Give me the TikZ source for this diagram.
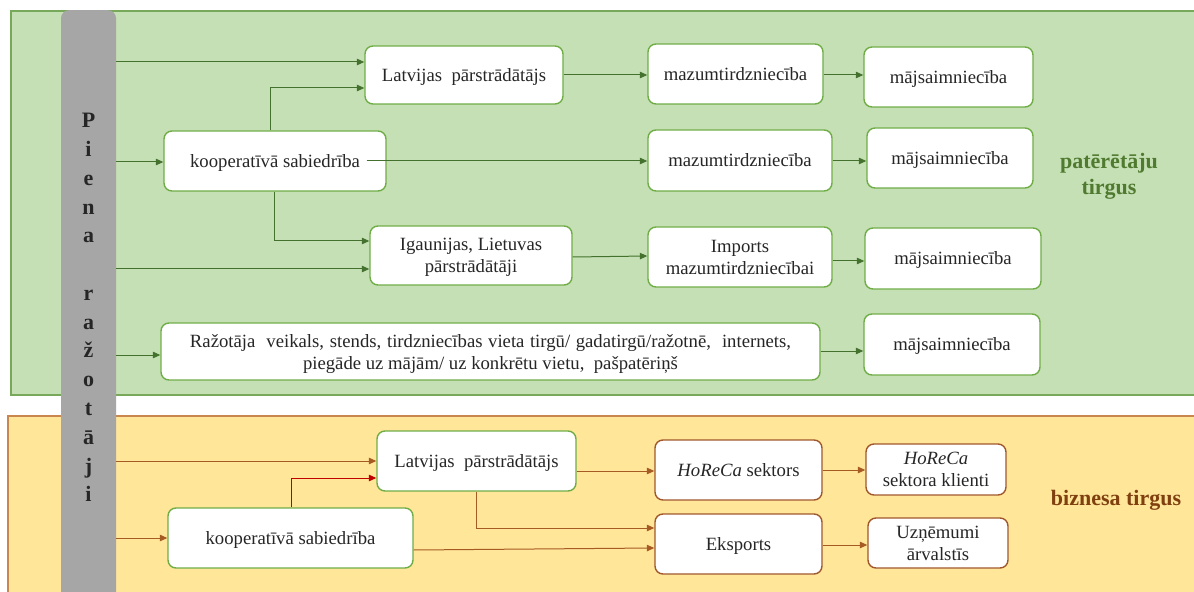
\documentclass[tikz,border=0pt]{standalone}
\usepackage{fontspec}
\setmainfont{Liberation Serif}
\usetikzlibrary{arrows.meta}
\definecolor{pgreen}{HTML}{C5E0B4}
\definecolor{pgreenb}{HTML}{78A85A}
\definecolor{porange}{HTML}{FFE699}
\definecolor{porangeb}{HTML}{C9874F}
\definecolor{barg}{HTML}{A6A6A6}
\definecolor{boxg}{HTML}{70AD47}
\definecolor{boxb}{HTML}{A0582C}
\definecolor{arrg}{HTML}{44722E}
\definecolor{arrb}{HTML}{A65A24}
\definecolor{arrr}{HTML}{C00000}
\definecolor{txt}{HTML}{262626}
\definecolor{lblg}{HTML}{4F7A30}
\definecolor{lblb}{HTML}{7F3F0F}
\begin{document}
\begin{tikzpicture}[x=1bp,y=-1bp,
  gbox/.style={draw=boxg, line width=1.4bp, fill=white, rounded corners=8bp, inner sep=0pt, align=center, text=txt, text depth=0pt, font=\fontsize{18.7bp}{22bp}\selectfont},
  bbox/.style={gbox, draw=boxb},
  sz/.style 2 args={minimum width=#1bp, minimum height=#2bp},
  garrow/.style={draw=arrg, line width=1bp, -{Triangle[length=7.5bp,width=6.5bp]}},
  barrow/.style={garrow, draw=arrb},
  rarrow/.style={garrow, draw=arrr},
  barletter/.style={font=\fontsize{22bp}{24bp}\selectfont\bfseries, text=txt, inner sep=0pt, anchor=base},
  marketlabel/.style={font=\fontsize{22bp}{26bp}\selectfont\bfseries, align=center, inner sep=0pt}
]
\useasboundingbox (0,0) rectangle (1194,592);
\fill[white] (0,0) rectangle (1194,592);
% panels
\draw[fill=pgreen, draw=pgreenb, line width=2bp] (11,11) rectangle (1210,395);
\draw[fill=porange, draw=porangeb, line width=2bp] (8,416) rectangle (1210,610);
% vertical bar
\node[fill=barg, rounded corners=8bp, inner sep=0pt, minimum width=55bp, minimum height=620bp, anchor=north] (bar) at (88.5,10) {};
\foreach \ch [count=\i] in {P,i,e,n,a,{},r,a,ž,o,t,ā,j,i} {
  \node[barletter] (L\i) at (88.5,{128+28.75*(\i-1)}) {\ch};
}
% consumer market boxes
\node[gbox, sz={198}{58}] (lp1) at (464,75) {Latvijas~ pārstrādātājs};
\node[gbox, sz={175}{60}] (m1) at (735.5,74) {mazumtirdzniecība};
\node[gbox, sz={169}{60}] (h1) at (948.5,77) {mājsaimniecība};
\node[gbox, sz={222}{60}] (koop1) at (275,161) {kooperatīvā sabiedrība};
\node[gbox, sz={184}{61}] (m2) at (740,160.5) {mazumtirdzniecība};
\node[gbox, sz={166}{60}] (h2) at (950,158) {mājsaimniecība};
\node[gbox, sz={202}{59}] (ig) at (471,255.5) {Igaunijas, Lietuvas\\pārstrādātāji};
\node[gbox, sz={184}{60}] (imp) at (740,257) {Imports\\mazumtirdzniecībai};
\node[gbox, sz={176}{61}] (h3) at (953,258.5) {mājsaimniecība};
\node[gbox, sz={659}{57}] (raz) at (490.5,351.5) {\makebox[601bp][s]{Ražotāja\ \ veikals, stends, tirdzniecības vieta tirgū/ gadatirgū/ražotnē,\ \ internets,}\\piegāde uz mājām/ uz konkrētu vietu,\ \ pašpatēriņš};
\node[gbox, sz={176}{61}] (h4) at (952,344.5) {mājsaimniecība};
\node[marketlabel, text=lblg] (pt) at (1109,176) {patērētāju\\tirgus};
% business market boxes
\node[gbox, sz={199}{60}] (lp2) at (476.5,461) {Latvijas~ pārstrādātājs};
\node[gbox, sz={245}{60}] (koop2) at (290.5,538) {kooperatīvā sabiedrība};
\node[bbox, sz={167}{60}] (hs) at (738.5,470) {\textit{HoReCa} sektors};
\node[bbox, sz={140}{51}] (hk) at (936,469.5) {\textit{HoReCa}\\sektora klienti};
\node[bbox, sz={167}{60}] (eks) at (738.5,544) {Eksports};
\node[bbox, sz={140}{50}] (uz) at (938,543) {Uzņēmumi\\ārvalstīs};
\node[marketlabel, text=lblb] (bt) at (1116,500) {biznesa tirgus};
% green arrows
\draw[garrow] (bar.east |- 0,62) -- (lp1.west |- 0,62);
\draw[garrow] (koop1.north -| 270,0) |- (lp1.west |- 0,88);
\draw[garrow] (bar.east |- 0,162) -- (koop1.west |- 0,162);
\draw[garrow] ([xshift=-20bp]koop1.east) -- (m2.west |- koop1.east);
\draw[garrow] (koop1.south -| 274,0) |- (ig.west |- 0,241);
\draw[garrow] (bar.east |- 0,269) -- (ig.west |- 0,269);
\draw[garrow] (lp1.east |- 0,75) -- (m1.west |- 0,75);
\draw[garrow] (m1.east |- 0,75) -- (h1.west |- 0,75);
\draw[garrow] (m2.east |- 0,161) -- (h2.west |- 0,161);
\draw[garrow] (ig.east |- 0,257) -- (imp.west |- 0,256);
\draw[garrow] (imp.east |- 0,261) -- (h3.west |- 0,261);
\draw[garrow] (bar.east |- 0,355) -- (raz.west |- 0,355);
\draw[garrow] (raz.east |- 0,351) -- (h4.west |- 0,351);
% brown arrows
\draw[barrow] (bar.east |- 0,461) -- (lp2.west |- 0,461);
\draw[rarrow] (koop2.north -| 291,0) |- (lp2.west |- 0,478);
\draw[barrow] (bar.east |- 0,538) -- (koop2.west |- 0,538);
\draw[barrow] (lp2.east |- 0,471) -- (hs.west |- 0,471);
\draw[barrow] (lp2.south -| 476,0) |- (eks.west |- 0,528);
\draw[barrow] (koop2.east |- 0,550) -- (eks.west |- 0,548);
\draw[barrow] (hs.east |- 0,470) -- (hk.west |- 0,470);
\draw[barrow] (eks.east |- 0,545) -- (uz.west |- 0,545);
\end{tikzpicture}
\end{document}
